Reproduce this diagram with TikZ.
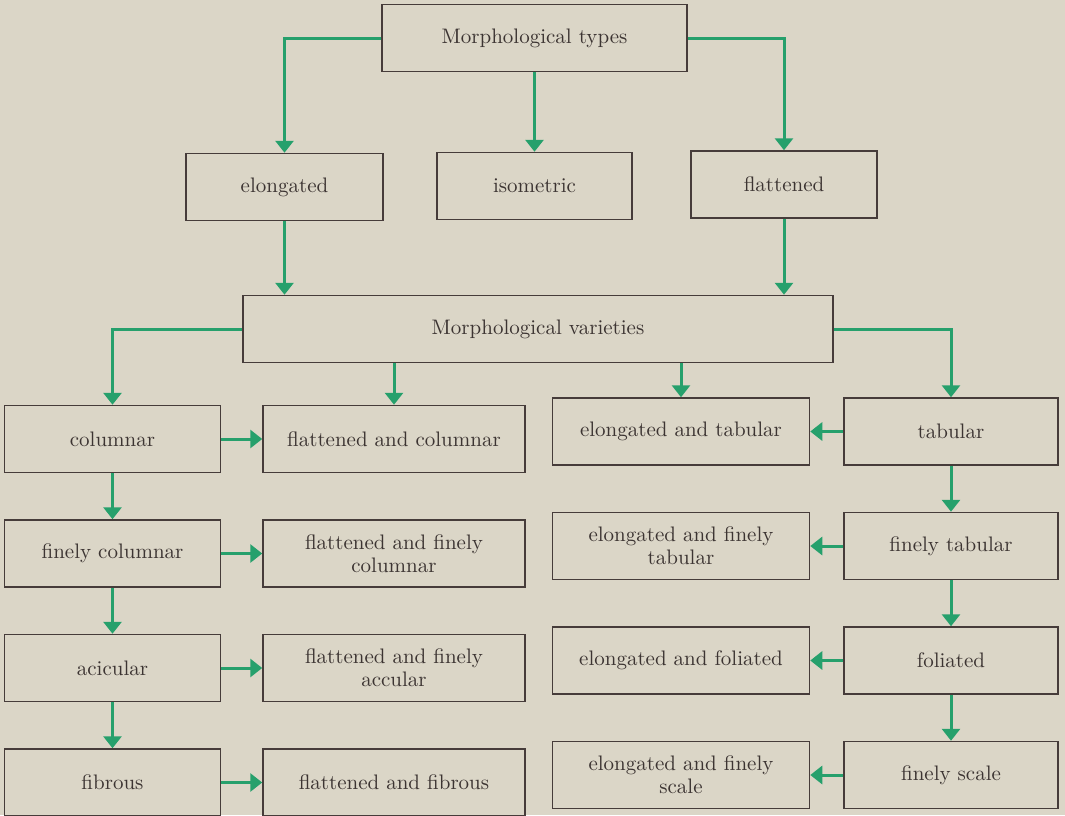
\documentclass[tikz,border=0pt]{standalone}
\usepackage[dvipsnames]{xcolor}
\usepackage{tikz}
\usetikzlibrary{arrows.meta}
\usetikzlibrary{positioning}
\definecolor{paper}{RGB}{219,214,199}
\definecolor{arrowgreen}{RGB}{38,160,108}
\definecolor{boxline}{RGB}{70,60,58}
\definecolor{ink}{RGB}{60,52,50}
\tikzstyle{box}  = [draw=boxline,rectangle,line width=0.75pt,text=ink,align=center,inner sep=2pt,minimum height=33.5pt,font=\fontsize{10.5}{11.5}\selectfont]
\tikzstyle{link} = [->,draw=arrowgreen,line width=1.5pt]
\begin{document}
\begin{tikzpicture}[x=0.5pt,y=-0.5pt,>={Triangle[width=9pt,length=6pt]},node distance=23pt]

\fill[paper] (0,0) rectangle (1065,815);
\useasboundingbox (0,0) rectangle (1065,815);

\node[box, minimum width=152.5pt] (types) at (534.5,38)  {Morphological types};
\node[box, minimum width=98.5pt]  (elong) at (284.5,187) {elongated};
\node[box, minimum width=97.5pt]  (iso)   at (534.5,186) {isometric};
\node[box, minimum width=93pt]    (flat)  at (784,184.5) {flattened};
\node[box, minimum width=295pt]   (vars)  at (538,329)   {Morphological varieties};

% left side
\node[box, minimum width=108pt] (col) at (112.5,439) {columnar};
\node[box, minimum width=108pt] (fcol) [below=of col]  {finely columnar};
\node[box, minimum width=108pt] (acic) [below=of fcol] {acicular};
\node[box, minimum width=108pt] (fib)  [below=of acic] {fibrous};

\node[box, minimum width=131pt] (flcol)  [right=20.5pt of col]  {flattened and columnar};
\node[box, minimum width=131pt] (flfcol) [right=20.5pt of fcol] {flattened and finely\\columnar};
\node[box, minimum width=131pt] (flacic) [right=20.5pt of acic] {flattened and finely\\accular};
\node[box, minimum width=131pt] (flfib)  [right=20.5pt of fib]  {flattened and fibrous};

% right side
\node[box, minimum width=107pt] (tab) at (951,431.5) {tabular};
\node[box, minimum width=107pt] (ftab) [below=of tab]  {finely tabular};
\node[box, minimum width=107pt] (fol)  [below=of ftab] {foliated};
\node[box, minimum width=107pt] (fsc)  [below=of fol]  {finely scale};

\node[box, minimum width=128.5pt] (eltab)  [left=16.5pt of tab]  {elongated and tabular};
\node[box, minimum width=128.5pt] (elftab) [left=16.5pt of ftab] {elongated and finely\\tabular};
\node[box, minimum width=128.5pt] (elfol)  [left=16.5pt of fol]  {elongated and foliated};
\node[box, minimum width=128.5pt] (elfsc)  [left=16.5pt of fsc]  {elongated and finely\\scale};

\draw[link] (types.west) -| (elong.north);
\draw[link] (types) -- (iso);
\draw[link] (types.east) -| (flat.north);
\draw[link] (elong.south) -- (elong.south |- vars.north);
\draw[link] (flat.south) -- (flat.south |- vars.north);

\draw[link] (vars.west) -| (col.north);
\draw[link] (vars.south -| flcol.north) -- (flcol.north);
\draw[link] (vars.south -| eltab.north) -- (eltab.north);
\draw[link] (vars.east) -| (tab.north);

\path
	(col)  edge[link] (fcol)
	(fcol) edge[link] (acic)
	(acic) edge[link] (fib)
	(tab)  edge[link] (ftab)
	(ftab) edge[link] (fol)
	(fol)  edge[link] (fsc);

\path
	(col)  edge[link] (flcol)
	(fcol) edge[link] (flfcol)
	(acic) edge[link] (flacic)
	(fib)  edge[link] (flfib)
	(tab)  edge[link] (eltab)
	(ftab) edge[link] (elftab)
	(fol)  edge[link] (elfol)
	(fsc)  edge[link] (elfsc);

\end{tikzpicture}
\end{document}
